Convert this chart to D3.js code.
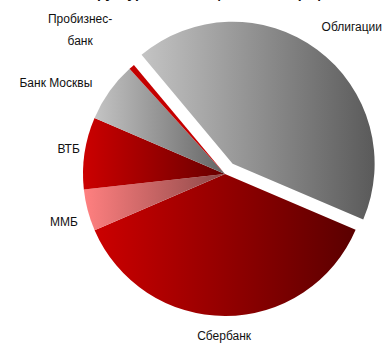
<!DOCTYPE html>
<html>
<head>
<meta charset="utf-8">
<script src="https://cdn.jsdelivr.net/npm/d3@7"></script>
<style>
  body { margin: 0; background: #fff; }
  svg { display: block; }
  text { font-family: "Liberation Sans", Arial, sans-serif; fill: #111; }
</style>
</head>
<body>
<svg id="chart" width="383" height="343"></svg>
<script>
// portfolio shares, %, clockwise from the exploded slice
const names = ["Облигации", "Сбербанк", "ММБ", "ВТБ", "Банк Москвы", "Пробизнес-банк"];
const shares = [42.5, 37.1, 4.75, 8.2, 6.8, 0.65];
const labelLines = [["Облигации"], ["Сбербанк"], ["ММБ"], ["ВТБ"], ["Банк Москвы"], ["Пробизнес-", "банк"]];

// gradient stops (left -> right) for each slice
const colorsLeft = ["#c4c4c4", "#cc0000", "#ff8080", "#cc0000", "#c4c4c4", "#c40000"];
const colorsRight = ["#5a5a5a", "#5a0000", "#8c4848", "#680000", "#646464", "#c40000"];

const svg = d3.select("#chart");
const cx = 225, cy = 174, r = 142;
const explode = 12.8;
// label placement: distance beyond the rim and small turn (deg) from the slice middle
const labelPad = [23.3, 13, 12.6, 5.2, 21.5, 37.6];
const labelTurn = [0.95, 0.4, -2.4, 0.8, -3.3, -2.1];

const rad = Math.PI / 180;
const pie = d3.pie().sort(null).value(d => d)
	.startAngle(-39.9 * rad).endAngle(320.1 * rad);
const arcs = pie(shares);
const arc = d3.arc().innerRadius(0).outerRadius(r);

// cut off title at the top of the frame
svg.append("text")
	.attr("x", 215).attr("y", -2)
	.attr("text-anchor", "middle")
	.style("font-size", "14px").style("font-weight", "bold")
	.text("Структура инвестиционного портфеля");

const defs = svg.append("defs");
arcs.forEach((a, i) => {
	const g = defs.append("linearGradient")
		.attr("id", "grad" + i)
		.attr("x1", 0).attr("y1", 0).attr("x2", 1).attr("y2", 0);
	g.append("stop").attr("offset", 0).attr("stop-color", colorsLeft[i]);
	g.append("stop").attr("offset", 1).attr("stop-color", colorsRight[i]);
});

function offset(a, i) {
	if (i !== 0) return [0, 0];
	const m = (a.startAngle + a.endAngle) / 2;
	return [Math.sin(m) * explode, -Math.cos(m) * explode];
}

const root = svg.append("g").attr("transform", `translate(${cx},${cy})`);

root.selectAll("path.slice")
	.data(arcs)
	.enter()
	.append("path")
	.attr("class", "slice")
	.attr("d", arc)
	.attr("transform", (d, i) => "translate(" + offset(d, i) + ")")
	.attr("fill", (d, i) => `url(#grad${i})`);

// labels, placed outside each slice by their box edge
const lineH = 22;
arcs.forEach((a, i) => {
	const m = (a.startAngle + a.endAngle) / 2 + labelTurn[i] * rad;
	const [ox, oy] = offset(a, i);
	const R = r + labelPad[i];
	const px = ox + Math.sin(m) * R;
	const py = oy - Math.cos(m) * R;
	const t = root.append("text")
		.attr("text-anchor", "middle")
		.style("font-size", "12px");
	labelLines[i].forEach((s, k) => {
		t.append("tspan").attr("x", 0).attr("dy", k === 0 ? 0 : lineH).text(s);
	});
	const bb = t.node().getBBox();
	const bx = px + Math.sin(m) * bb.width / 2;
	const by = py - Math.cos(m) * bb.height / 2;
	const shiftY = by - (bb.y + bb.height / 2);
	t.attr("transform", `translate(${bx},${shiftY})`);
});
</script>
</body>
</html>
